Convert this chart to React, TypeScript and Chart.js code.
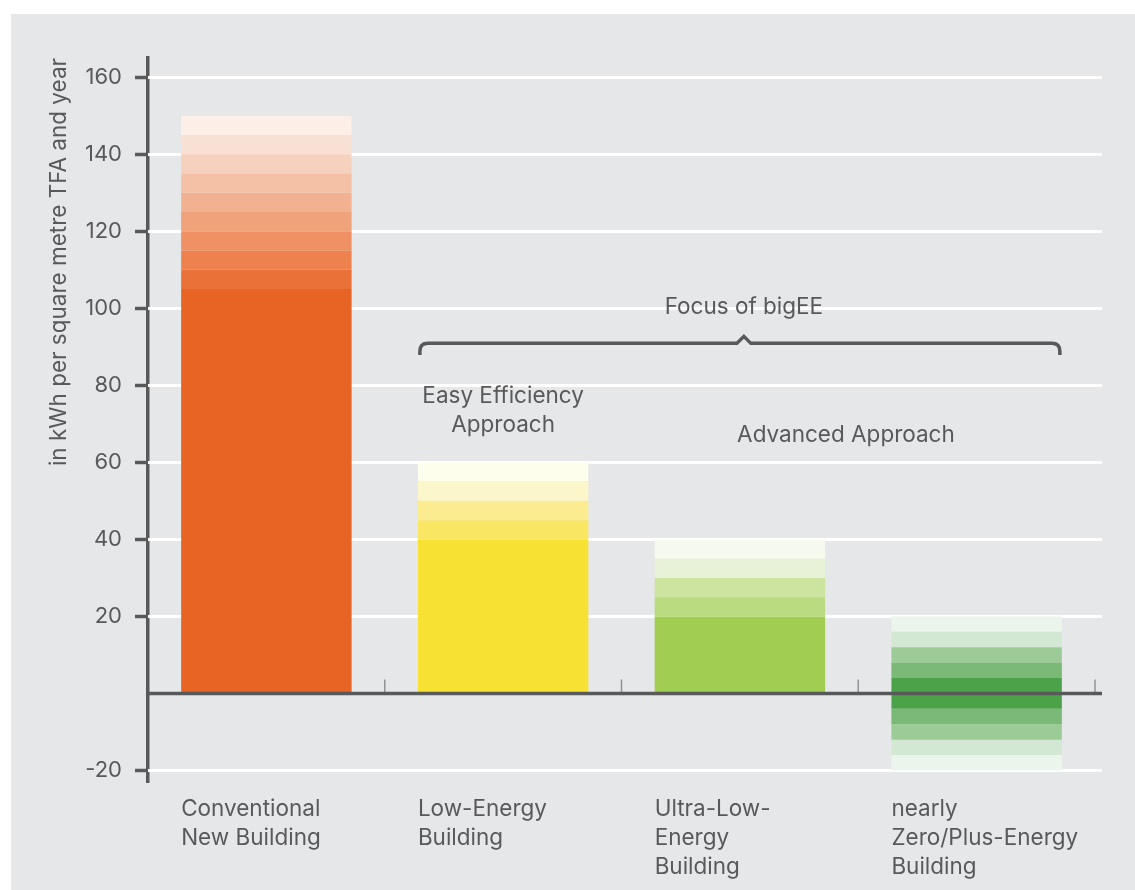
import React, { useEffect, useRef } from 'react';
import { Chart, registerables } from 'chart.js';

Chart.register(...registerables);

// ---------- data ----------
const categories: string[][] = [
  ['Conventional', 'New Building'],
  ['Low-Energy', 'Building'],
  ['Ultra-Low-', 'Energy', 'Building'],
  ['nearly', 'Zero/Plus-Energy', 'Building'],
];

// stacked layer thickness per building (kWh per m² TFA and year), bottom to top
const conventionalLayers = [105, 5, 5, 5, 5, 5, 5, 5, 5, 5];
const conventionalColors = ['#E86424', '#EA7137', '#ED824F', '#EF9163', '#F0A27B', '#F2B291', '#F4C1A7', '#F6D1BE', '#F9E0D4', '#FCEFE8'];
const lowEnergyLayers = [40, 5, 5, 5, 5];
const lowEnergyColors = ['#F7E132', '#F9E764', '#FBED8F', '#FCF6CB', '#FEFEEC'];
const ultraLowLayers = [20, 5, 5, 5, 5];
const ultraLowColors = ['#A2CD53', '#BBDB80', '#CDE4A1', '#E8F2D6', '#F6F9EE'];
const nzebPositiveLayers = [4, 4, 4, 4, 4];
const nzebNegativeLayers = [-4, -4, -4, -4, -4];
const nzebColors = ['#4BA249', '#7AB976', '#9CCB98', '#D3E8D2', '#ECF5EC'];

const yTicks = [-20, 0, 20, 40, 60, 80, 100, 120, 140, 160];
const yMin = -23;
const yMax = 165;

const yTitle = 'in kWh per square metre TFA and year';
const focusLabel = 'Focus of bigEE';
const easyLabel = ['Easy Efficiency', 'Approach'];
const advancedLabel = 'Advanced Approach';

// ---------- styles ----------
const FONT = 'Inter, "Open Sans", sans-serif';
const TEXT = '#58595b';
const BG = '#e6e7e9';
const FS = 22.5;

function buildDatasets() {
  const groups = [conventionalLayers, lowEnergyLayers, ultraLowLayers, nzebPositiveLayers];
  const colors = [conventionalColors, lowEnergyColors, ultraLowColors, nzebColors];
  const n = Math.max(...groups.map((g) => g.length));
  const ds: any[] = [];
  for (let i = 0; i < n; i++) {
    ds.push({
      label: 'pos' + i,
      data: groups.map((g) => (g[i] !== undefined ? g[i] : null)),
      backgroundColor: colors.map((c) => c[i] || 'transparent'),
      stack: 's',
      borderWidth: 0,
    });
  }
  for (let i = 0; i < nzebNegativeLayers.length; i++) {
    ds.push({
      label: 'neg' + i,
      data: [null, null, null, nzebNegativeLayers[i]],
      backgroundColor: nzebColors[i],
      stack: 's',
      borderWidth: 0,
    });
  }
  return ds;
}

const overlay = {
  id: 'overlay',
  beforeDatasetsDraw(chart: any) {
    const { ctx, chartArea, scales } = chart;
    const y = scales.y;
    ctx.save();
    ctx.strokeStyle = '#ffffff';
    ctx.lineWidth = 3;
    yTicks.forEach((v) => {
      if (v === 0) return;
      const py = Math.round(y.getPixelForValue(v)) + 0.5;
      ctx.beginPath();
      ctx.moveTo(chartArea.left, py);
      ctx.lineTo(chartArea.right + 7, py);
      ctx.stroke();
    });
    ctx.restore();
  },
  afterDatasetsDraw(chart: any) {
    const { ctx, chartArea, scales } = chart;
    const x = scales.x;
    const y = scales.y;
    ctx.save();
    const zeroY = y.getPixelForValue(0);

    // category separators on the zero line
    ctx.strokeStyle = '#929395';
    ctx.lineWidth = 1.5;
    for (let i = 0; i < categories.length; i++) {
      const bx = i < categories.length - 1 ? (x.getPixelForValue(i) + x.getPixelForValue(i + 1)) / 2 : chartArea.right;
      ctx.beginPath();
      ctx.moveTo(bx, zeroY);
      ctx.lineTo(bx, zeroY - 14);
      ctx.stroke();
    }

    // zero line
    ctx.strokeStyle = TEXT;
    ctx.lineWidth = 3.5;
    ctx.beginPath();
    ctx.moveTo(chartArea.left, zeroY);
    ctx.lineTo(chartArea.right + 7, zeroY);
    ctx.stroke();

    // category labels, left aligned at bar left edge
    const meta = chart.getDatasetMeta(0);
    const bars = meta.data;
    ctx.fillStyle = TEXT;
    ctx.font = `${FS}px ${FONT}`;
    ctx.textAlign = 'left';
    ctx.textBaseline = 'middle';
    categories.forEach((lines, i) => {
      const el = bars[i];
      const left = el.x - el.width / 2;
      lines.forEach((ln, j) => {
        ctx.fillText(ln, left, chartArea.bottom + 27 + j * 29);
      });
    });

    // brace spanning bars 2..4
    const bl = bars[1].x - bars[1].width / 2 + 2;
    const br = bars[3].x + bars[3].width / 2 - 2;
    const by = y.getPixelForValue(90.9);
    const bEnd = y.getPixelForValue(87.9);
    const mid = (bl + br) / 2 + 4;
    const r = 8;

    // annotations
    ctx.textAlign = 'center';
    ctx.fillText(focusLabel, mid, y.getPixelForValue(100.4));
    ctx.fillText(easyLabel[0], x.getPixelForValue(1), y.getPixelForValue(77.1));
    ctx.fillText(easyLabel[1], x.getPixelForValue(1), y.getPixelForValue(69.6));
    ctx.fillText(advancedLabel, x.getPixelForValue(2.448), y.getPixelForValue(67.0));

    ctx.strokeStyle = TEXT;
    ctx.lineWidth = 3.5;
    ctx.lineJoin = 'miter';
    ctx.beginPath();
    ctx.moveTo(bl, bEnd);
    ctx.lineTo(bl, by + r);
    ctx.quadraticCurveTo(bl, by, bl + r, by);
    ctx.lineTo(mid - 7, by);
    ctx.lineTo(mid, by - 7);
    ctx.lineTo(mid + 7, by);
    ctx.lineTo(br - r, by);
    ctx.quadraticCurveTo(br, by, br, by + r);
    ctx.lineTo(br, bEnd);
    ctx.stroke();

    ctx.restore();
  },
};

export default function App() {
  const ref = useRef<HTMLCanvasElement | null>(null);
  useEffect(() => {
    if (!ref.current) return;
    const chart = new Chart(ref.current, {
      type: 'bar',
      data: {
        labels: categories.map((c) => c.join(' ')),
        datasets: buildDatasets(),
      },
      options: {
        animation: false,
        responsive: false,
        maintainAspectRatio: false,
        layout: { padding: { left: 0, top: 44, right: 40, bottom: 108 } },
        datasets: { bar: { categoryPercentage: 1, barPercentage: 0.72 } },
        plugins: { legend: { display: false }, tooltip: { enabled: false } },
        scales: {
          x: {
            display: false,
            stacked: true,
          },
          y: {
            stacked: true,
            min: yMin,
            max: yMax,
            afterBuildTicks: (scale: any) => {
              scale.ticks = yTicks.map((v) => ({ value: v }));
            },
            afterFit: (scale: any) => {
              scale.width = 137;
            },
            border: { display: true, color: TEXT, width: 3.5 },
            grid: {
              display: true,
              drawOnChartArea: false,
              drawTicks: true,
              tickLength: 13,
              tickWidth: 3.5,
              tickColor: (c: any) => (c.tick && c.tick.value === 0 ? 'rgba(0,0,0,0)' : TEXT),
            },
            ticks: {
              padding: 13,
              color: TEXT,
              font: { family: FONT, size: 22 },
              callback: (v: any) => (Number(v) === 0 ? '' : String(v)),
            },
            title: {
              display: true,
              text: yTitle,
              align: 'end',
              color: TEXT,
              font: { family: FONT, size: 22.5 },
              padding: { top: 35, bottom: 0 },
            },
          },
        },
      },
      plugins: [overlay],
    });
    return () => chart.destroy();
  }, []);

  return (
    <div style={{ position: 'fixed', left: 11, top: 14, width: 1124, height: 876, background: BG }}>
      <canvas ref={ref} width={1124} height={876} style={{ display: 'block', width: 1124, height: 876 }} />
    </div>
  );
}
